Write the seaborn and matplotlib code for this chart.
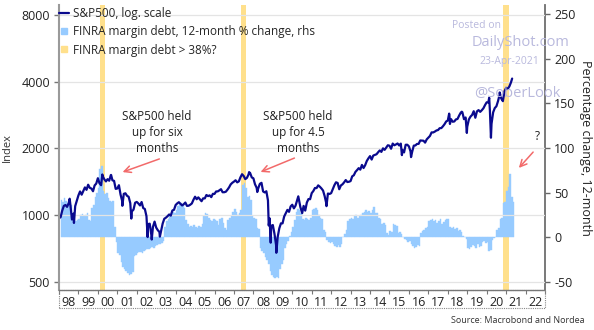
import matplotlib
matplotlib.use("Agg")
import matplotlib.pyplot as plt
import seaborn as sns
import numpy as np
import pandas as pd
from matplotlib.lines import Line2D
from matplotlib.patches import Rectangle
from matplotlib.ticker import NullLocator, FixedLocator, FixedFormatter

# ---------------- data ----------------
# S&P 500 month-end closes, Jan 1998 .. Mar 2021
sp500_monthly = [
    980, 1049, 1102, 1112, 1091, 1134, 1121, 957, 1017, 1099, 1164, 1229,   # 1998
    1280, 1238, 1286, 1335, 1302, 1373, 1329, 1320, 1283, 1363, 1389, 1469, # 1999
    1394, 1366, 1499, 1452, 1421, 1455, 1431, 1518, 1437, 1429, 1315, 1320, # 2000
    1366, 1240, 1160, 1249, 1256, 1224, 1211, 1134, 1041, 1060, 1139, 1148, # 2001
    1130, 1107, 1147, 1077, 1067, 990, 912, 916, 815, 886, 936, 880,        # 2002
    856, 841, 848, 917, 964, 975, 990, 1008, 996, 1051, 1058, 1112,         # 2003
    1131, 1145, 1126, 1107, 1121, 1141, 1102, 1104, 1115, 1130, 1174, 1212, # 2004
    1181, 1204, 1181, 1157, 1192, 1191, 1234, 1220, 1229, 1207, 1249, 1248, # 2005
    1280, 1281, 1295, 1311, 1270, 1270, 1277, 1304, 1336, 1378, 1401, 1418, # 2006
    1438, 1407, 1421, 1482, 1531, 1503, 1455, 1474, 1527, 1549, 1481, 1468, # 2007
    1379, 1331, 1323, 1386, 1400, 1280, 1267, 1283, 1166, 969, 896, 903,    # 2008
    826, 735, 798, 873, 919, 919, 987, 1021, 1057, 1036, 1096, 1115,        # 2009
    1074, 1104, 1169, 1187, 1089, 1031, 1102, 1049, 1141, 1183, 1181, 1258, # 2010
    1286, 1327, 1326, 1364, 1345, 1321, 1292, 1219, 1131, 1253, 1247, 1258, # 2011
    1312, 1366, 1408, 1398, 1310, 1362, 1379, 1407, 1441, 1412, 1416, 1426, # 2012
    1498, 1515, 1569, 1598, 1631, 1606, 1686, 1633, 1682, 1757, 1806, 1848, # 2013
    1783, 1859, 1872, 1884, 1924, 1960, 1931, 2003, 1972, 2018, 2068, 2059, # 2014
    1995, 2105, 2068, 2086, 2107, 2063, 2104, 1972, 1920, 2079, 2080, 2044, # 2015
    1940, 1932, 2060, 2065, 2097, 2099, 2174, 2171, 2168, 2126, 2199, 2239, # 2016
    2279, 2364, 2363, 2384, 2412, 2423, 2470, 2472, 2519, 2575, 2648, 2674, # 2017
    2824, 2714, 2641, 2648, 2705, 2718, 2816, 2902, 2914, 2712, 2760, 2507, # 2018
    2704, 2784, 2834, 2946, 2752, 2942, 2980, 2926, 2977, 3038, 3141, 3231, # 2019
    3226, 2954, 2585, 2912, 3044, 3100, 3271, 3500, 3363, 3270, 3622, 3756, # 2020
    3714, 3811, 3973,                                                       # 2021
]
# intra-month highs / lows (decimal year, level)
sp500_extra_t = [1998.00, 1998.55, 1998.77, 2000.23, 2000.68, 2001.26, 2001.72,
                 2002.56, 2002.77, 2003.19, 2007.78, 2008.20, 2008.79, 2008.89,
                 2009.18, 2010.31, 2010.51, 2011.76, 2015.64, 2016.11, 2018.07,
                 2018.11, 2018.72, 2018.98, 2020.13, 2020.22, 2020.67, 2021.31]
sp500_extra_v = [970, 1187, 923, 1527, 1520, 1103, 966,
                 797, 777, 801, 1565, 1273, 899, 752,
                 677, 1217, 1022, 1099, 1867, 1829, 2873,
                 2581, 2931, 2351, 3386, 2237, 3580, 4135]

# FINRA margin debt, 12-month % change, Jan 1998 .. Apr 2021
margin_yoy = [
    42, 40, 44, 41, 38, 40, 36, 22, 20, 18, 19, 20,          # 1998
    25, 26, 24, 25, 27, 19, 18, 33, 36, 45, 50, 55,          # 1999
    76, 80, 52, 48, 50, 44, 41, 40, 41, 12, -5, -18,         # 2000
    -20, -28, -33, -35, -38, -40, -42, -41, -39, -21, -20, -18,  # 2001
    -17, -16, -18, -15, -14, -13, -13, -12, -11, -12, -10, -9,   # 2002
    -8, -7, -6, -4, 12, 18, 20, 24, 26, 28, 27, 30,          # 2003
    35, 37, 38, 36, 33, 19, 15, 12, 13, 11, 14, 12,          # 2004
    10, 13, 12, 15, 24, 27, 26, 22, 19, 18, 20, 19,          # 2005
    18, 14, 20, 22, 16, 10, 8, 19, 22, 24, 28, 32,           # 2006
    28, 25, 27, 30, 58, 61, 55, 45, 46, 42, 24, 22,          # 2007
    20, 10, 9, -12, -15, -18, -22, -25, -30, -38, -42, -44,  # 2008
    -46, -45, -46, -35, -30, -25, -12, -8, -4, 2, 6, 12,     # 2009
    19, 28, 32, 30, 27, 21, 19, 22, 20, 19, 22, 30,          # 2010
    32, 33, 31, 25, 22, 20, 8, 6, -3, -5, -6, -5,            # 2011
    -8, -10, -11, -9, -11, -8, 0, 4, 8, 18, 20, 22,          # 2012
    20, 24, 25, 22, 24, 25, 27, 28, 30, 28, 29, 27,          # 2013
    30, 34, 27, 27, 22, 21, 15, 16, 14, 5, 3, 7,             # 2014
    6, 15, 14, 13, 5, 6, 4, 0, -2, -3, -5, -4,               # 2015
    -8, -10, -12, -11, -9, -10, 5, 7, 8, 10, 12, 18,         # 2016
    19, 20, 18, 19, 16, 18, 20, 15, 17, 19, 20, 21,          # 2017
    11, 10, 12, 9, 10, 7, 8, 6, 1, 0, -2, -12,               # 2018
    -13, -11, -9, -10, -12, -8, -11, -10, -5, -4, -6, -5,    # 2019
    -15, -14, -3, -1, 0, 8, 10, 20, 22, 38, 40, 52,          # 2020
    56, 71, 45, 40,                                          # 2021
]

# periods with margin debt growth > 38%
band_starts = [2000.11, 2007.36, 2020.86]
band_ends = [2000.38, 2007.62, 2021.16]

year_labels = ['98', '99', '00', '01', '02', '03', '04', '05', '06', '07', '08',
               '09', '10', '11', '12', '13', '14', '15', '16', '17', '18', '19',
               '20', '21', '22']
left_ticks = [500, 1000, 2000, 4000, 8000]
right_ticks = [-50, 0, 50, 100, 150, 200, 250]

# ---------------- style ----------------
NAVY = '#0A0A8E'
LBLUE = '#97CBFF'
GOLD = '#FFE08C'
RED = '#F26A6A'
WM = '#B9B9DD'

sns.set_theme(style='white')
plt.rcParams['font.family'] = ['Open Sans', 'DejaVu Sans']

# ---------------- assemble series ----------------
start = 1998
t_monthly = [start + (i + 1) / 12 for i in range(len(sp500_monthly))]
sp_df = pd.DataFrame({'t': t_monthly + sp500_extra_t,
                      'v': sp500_monthly + sp500_extra_v}).sort_values('t')
bar_x = [start + (i + 1) / 12 for i in range(len(margin_yoy))]

# ---------------- figure ----------------
fig = plt.figure(figsize=(5.94, 3.30), dpi=100)
ax_line = fig.add_axes([0.0993, 0.1212, 0.8182, 0.8636])
ax_bar = ax_line.twinx()
ax_line.set_zorder(ax_bar.get_zorder() + 1)
ax_line.patch.set_visible(False)

# bands and bars (right axis)
for s, e in zip(band_starts, band_ends):
    ax_bar.axvspan(s, e, color=GOLD, lw=0, zorder=0)
ax_bar.bar(bar_x, margin_yoy, width=1 / 12, align='edge', color=LBLUE,
           edgecolor=LBLUE, linewidth=0.3, zorder=1)
ax_bar.set_ylim(-59, 260)
ax_bar.set_yticks(right_ticks)
ax_bar.set_yticklabels([str(v) for v in right_ticks])
ax_bar.tick_params(axis='y', which='major', direction='out', length=3.5, width=1,
                   color='#666666', pad=3, labelsize=9, labelcolor='#222222',
                   right=True, left=False)
ax_bar.set_ylabel('Percentage change, 12-month', rotation=270, labelpad=12,
                  fontsize=9, color='#222222')
for side in ['top', 'left', 'bottom']:
    ax_bar.spines[side].set_visible(False)
ax_bar.spines['right'].set_color('#6E6E6E')
ax_bar.spines['right'].set_linewidth(1.3)

# S&P line (left axis, log)
sns.lineplot(data=sp_df, x='t', y='v', ax=ax_line, color=NAVY, linewidth=1.6,
             estimator=None)
ax_line.set_yscale('log')
ax_line.set_ylim(460, 8876)
ax_line.yaxis.set_major_locator(FixedLocator(left_ticks))
ax_line.yaxis.set_major_formatter(FixedFormatter([str(v) for v in left_ticks]))
ax_line.yaxis.set_minor_locator(NullLocator())
ax_line.set_xlim(1998, 2023)
ax_line.set_xlabel('')
ax_line.set_ylabel('Index', fontsize=8, color='#333333', labelpad=6)
ax_line.yaxis.grid(True, color='#E4E4E4', linewidth=0.9, zorder=0)
ax_line.xaxis.grid(False)
ax_line.tick_params(axis='y', which='major', direction='out', length=3.5, width=1,
                    color='#777777', pad=3, labelsize=9, labelcolor='#222222',
                    left=True)

# x ticks: year boundaries (marks) and mid-year labels
years = list(range(1998, 2024))
ax_line.xaxis.set_major_locator(FixedLocator(years))
ax_line.xaxis.set_major_formatter(FixedFormatter([''] * len(years)))
mids = [y + 0.5 for y in range(1998, 2023)]
ax_line.xaxis.set_minor_locator(FixedLocator(mids))
ax_line.xaxis.set_minor_formatter(FixedFormatter(year_labels))
ax_line.tick_params(axis='x', which='major', direction='out', length=3, width=0.8,
                    color='#777777', bottom=True)
ax_line.tick_params(axis='x', which='minor', length=0, pad=4, labelsize=9,
                    labelcolor='#222222', bottom=True)

for side in ['top', 'right']:
    ax_line.spines[side].set_visible(False)
ax_line.spines['left'].set_color('#9A9A9A')
ax_line.spines['left'].set_linewidth(1.5)
ax_line.spines['bottom'].set_color('#777777')
ax_line.spines['bottom'].set_linewidth(1.0)
ax_line.spines['bottom'].set_linestyle((0, (1, 1)))

# dotted frame around the date labels
ax_line.add_patch(Rectangle((0, -0.063), 1, 0.063, transform=ax_line.transAxes,
                            fill=False, edgecolor='#888888', linewidth=0.8,
                            linestyle=(0, (1, 1)), clip_on=False))

# legend
handles = [Line2D([0], [0], color=NAVY, lw=1.6),
           Line2D([0], [0], marker='s', ls='none', color=LBLUE, markersize=4.5),
           Line2D([0], [0], marker='s', ls='none', color=GOLD, markersize=4.5)]
labels = ['S&P500, log. scale', 'FINRA margin debt, 12-month % change, rhs',
          'FINRA margin debt > 38%?']
ax_line.legend(handles, labels, loc='upper left', bbox_to_anchor=(-0.01, 1.01),
               frameon=False, fontsize=8.5, handlelength=0.9, handletextpad=0.3,
               labelspacing=0.45, borderaxespad=0.2, borderpad=0.2)

# annotations
ax_line.text(0.2016, 0.551, 'S&P500 held\nup for six\nmonths', transform=ax_line.transAxes,
             ha='center', va='center', fontsize=8.5, color='#222222', linespacing=1.3)
ax_line.annotate('', xy=(0.1255, 0.4105), xytext=(0.2119, 0.4632),
                 xycoords='axes fraction', textcoords='axes fraction',
                 arrowprops=dict(arrowstyle='->', color=RED, lw=1.1))
ax_line.text(0.4918, 0.551, 'S&P500 held\nup for 4.5\nmonths', transform=ax_line.transAxes,
             ha='center', va='center', fontsize=8.5, color='#222222', linespacing=1.3)
ax_line.annotate('', xy=(0.4095, 0.4105), xytext=(0.4897, 0.4667),
                 xycoords='axes fraction', textcoords='axes fraction',
                 arrowprops=dict(arrowstyle='->', color=RED, lw=1.1))
ax_line.text(0.9835, 0.537, '?', transform=ax_line.transAxes, ha='center',
             va='center', fontsize=8.5, color='#222222')
ax_line.annotate('', xy=(0.9424, 0.4211), xytext=(0.9794, 0.4912),
                 xycoords='axes fraction', textcoords='axes fraction',
                 arrowprops=dict(arrowstyle='->', color=RED, lw=1.1))

# watermark
fig.text(0.803, 0.924, 'Posted on', ha='center', va='center', fontsize=7.5, color=WM)
fig.text(0.876, 0.870, 'DailyShot.com', ha='center', va='center', fontsize=10.5, color=WM)
fig.text(0.858, 0.815, '23-Apr-2021', ha='center', va='center', fontsize=7.5, color=WM)
fig.text(0.871, 0.718, '@SoberLook', ha='center', va='center', fontsize=10.5, color=WM)

# source
fig.text(0.985, 0.03, 'Source: Macrobond and Nordea', ha='right', va='center',
         fontsize=6.5, color='#333333')

fig.savefig('out.png', dpi=100)
